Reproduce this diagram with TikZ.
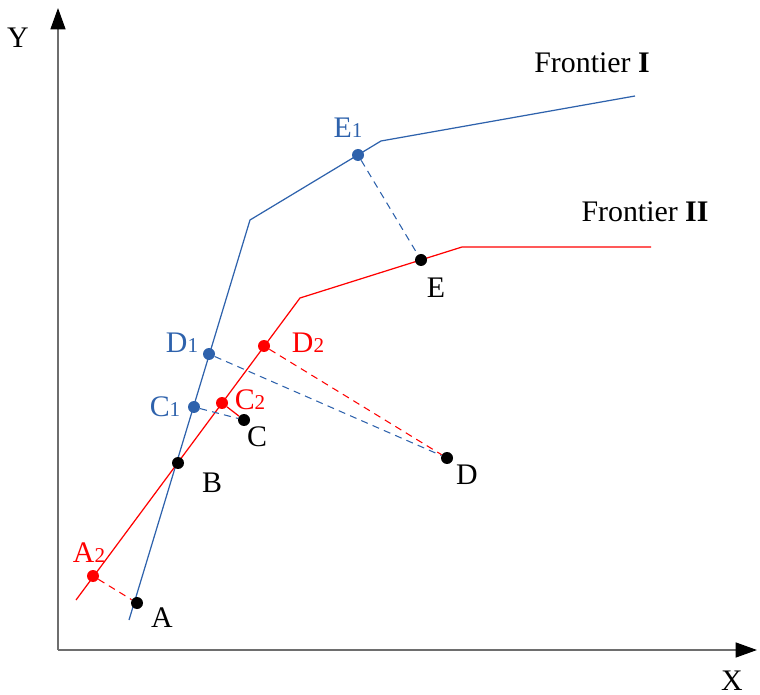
\documentclass[tikz,border=0pt]{standalone}
\usepackage{fontspec}
\setmainfont{Liberation Serif}
\usepackage{xcolor}
\usetikzlibrary{arrows.meta}

\definecolor{frontblue}{RGB}{46,98,172}
\definecolor{axisgray}{RGB}{110,110,110}
\newcommand{\sub}[1]{{\fontsize{12}{12}\selectfont #1}}

\begin{document}
\begin{tikzpicture}[
    x=0.02cm, y=-0.02cm,
    font=\fontsize{17}{19}\selectfont,
    axis/.style={-{Triangle[length=0.43cm, width=0.3cm, black]}, axisgray, line width=1pt},
    dot/.style={circle, fill, inner sep=0pt, minimum size=0.24cm},
    frontI/.style={frontblue, line width=0.7pt},
    frontII/.style={red, line width=0.7pt},
    projI/.style={frontblue, dashed, dash pattern=on 4pt off 3pt, line width=0.6pt},
    projII/.style={red, dashed, dash pattern=on 4pt off 3pt, line width=0.6pt},
    lab/.style={inner sep=1pt}
]
    \useasboundingbox (0,0) rectangle (760,695);

    % axes
    \coordinate (O)  at (58,650);
    \coordinate (Xe) at (757,650);
    \coordinate (Ye) at (58,8);
    \draw[axis] (O) -- (Xe);
    \draw[axis] (O) -- (Ye);
    \node[lab] (xlab) at (732,681) {X};
    \node[lab] (ylab) at (18,38) {Y};

    % bends of the frontiers
    \coordinate (I0) at (129,620);
    \coordinate (I1) at (250,220);
    \coordinate (I2) at (381,141);
    \coordinate (I3) at (635,96);
    \coordinate (II0) at (76,600);
    \coordinate (II1) at (300,298);
    \coordinate (II2) at (462,247);
    \coordinate (II3) at (651,247);

    \draw[frontI]  (I0) -- (I1) -- (I2) -- (I3);
    \draw[frontII] (II0) -- (II1) -- (II2) -- (II3);

    \node[lab] (fI)  at (592,63)  {Frontier \textbf{I}};
    \node[lab] (fII) at (645,212) {Frontier \textbf{II}};

    % projections
    \node[dot, red]        (A2) at (93,576) {};
    \node[dot]             (A)  at (137,603) {};
    \node[dot]             (B)  at (178,463) {};
    \node[dot, frontblue]  (C1) at (194,407) {};
    \node[dot, red]        (C2) at (222,403) {};
    \node[dot]             (C)  at (244,420) {};
    \node[dot, frontblue]  (D1) at (209,354) {};
    \node[dot, red]        (D2) at (264,346) {};
    \node[dot]             (D)  at (447,458) {};
    \node[dot, frontblue]  (E1) at (358,155) {};
    \node[dot]             (E)  at (421,260) {};

    \draw[projII] (A2) -- (A);
    \draw[projI]  (C1) -- (C);
    \draw[frontII] (C2) -- (C);
    \draw[projI]  (D1) -- (D);
    \draw[projII] (D2) -- (D);
    \draw[projI]  (E1) -- (E);

    \node[lab] (labA)  at (162,618) {A};
    \node[lab, red] (labA2) at (89,553) {A\sub{2}};
    \node[lab] (labB)  at (212,483) {B};
    \node[lab] (labC)  at (257,437) {C};
    \node[lab, frontblue] (labC1) at (165,407) {C\sub{1}};
    \node[lab, red] (labC2) at (250,400) {C\sub{2}};
    \node[lab] (labD)  at (467,475) {D};
    \node[lab, frontblue] (labD1) at (182,343) {D\sub{1}};
    \node[lab, red] (labD2) at (308,343) {D\sub{2}};
    \node[lab] (labE)  at (436,288) {E};
    \node[lab, frontblue] (labE1) at (348,128) {E\sub{1}};
\end{tikzpicture}
\end{document}
